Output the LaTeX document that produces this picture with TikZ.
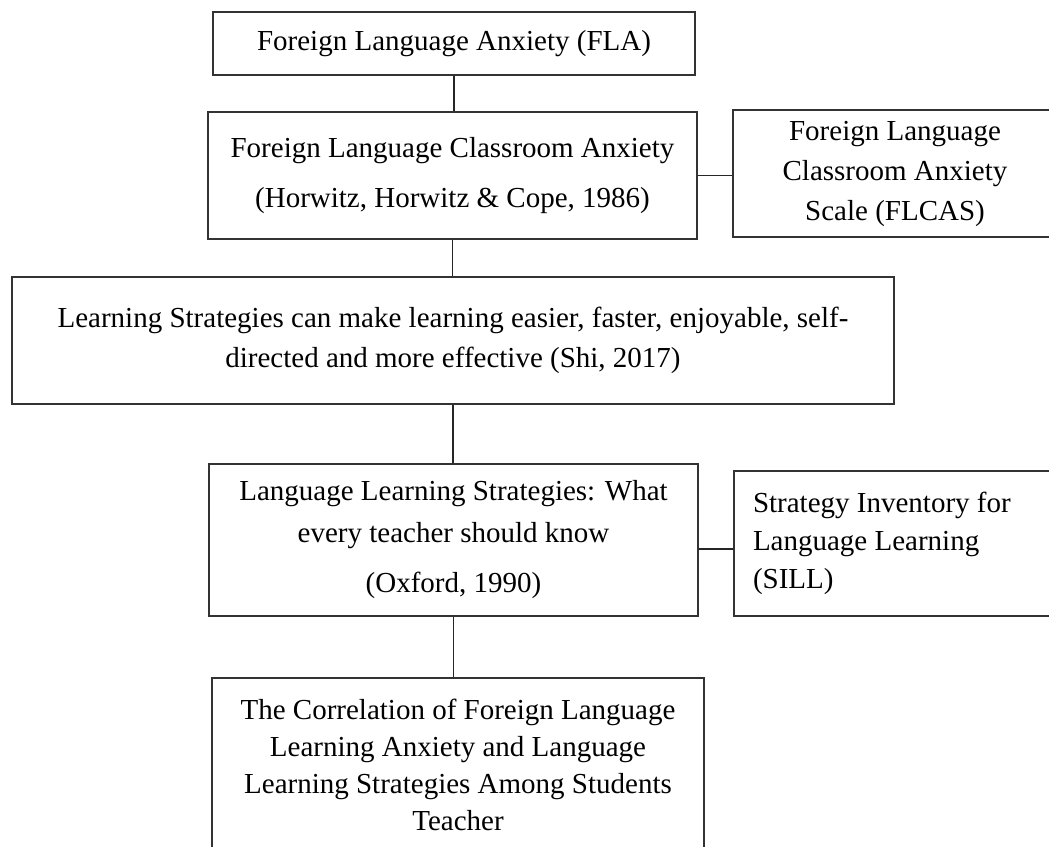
\documentclass[tikz,border=0pt]{standalone}
\usepackage{fontspec}
\setmainfont{Liberation Serif}
\begin{document}
\begin{tikzpicture}[x=0.5pt, y=-0.5pt,
		boxnode/.style={draw=black!80, line width=0.75pt, inner sep=0pt, align=center, font=\fontsize{14.5}{18.5}\selectfont},
		link/.style={draw=black!85, line width=0.6pt}]
		\useasboundingbox (0,0) rectangle (1049,846);
		\clip (0,0) rectangle (1049,846);
		\node (fla) at (454,43.5)[boxnode, minimum width=241pt, minimum height=31.5pt]{Foreign Language Anxiety (FLA)};
		\node (flca) at (452.5,175.5)[boxnode, minimum width=244.5pt, minimum height=63.5pt]{Foreign Language Classroom Anxiety\\[6.5pt](Horwitz, Horwitz \& Cope, 1986)};
		\node (flcas) at (895,173.5)[boxnode, minimum width=162pt, minimum height=63.5pt]{Foreign Language\\[1.5pt]Classroom Anxiety\\[1.5pt]Scale (FLCAS)};
		\node (shi) at (453,340.5)[boxnode, minimum width=441pt, minimum height=63.5pt]{Learning Strategies can make learning easier, faster, enjoyable, self-\\[1.5pt]directed and more effective (Shi, 2017)};
		\node (oxford) at (453.5,540)[boxnode, minimum width=244.5pt, minimum height=76pt]{Language Learning Strategies: What\\[2.5pt]every teacher should know\\[6.5pt](Oxford, 1990)};
		\node (sill) at (897,543.5)[boxnode, minimum width=163pt, minimum height=72.5pt, text width=144pt, align=flush left]{Strategy Inventory for\\[0.5pt]Language Learning\\[0.5pt](SILL)};
		\node (corr) at (458,765)[boxnode, minimum width=246pt, minimum height=87pt]{The Correlation of Foreign Language\\Learning Anxiety and Language\\Learning Strategies Among Students\\Teacher};
		% connectors
		\draw [link](fla.south) -- (fla.south |- flca.north);
		\draw [link](flca.east) -- (flca.east -| flcas.west);
		\draw [link](flca.south) -- (flca.south |- shi.north);
		\draw [link](shi.south) -- (shi.south |- oxford.north);
		\draw [link]([yshift=-4.5pt]oxford.east) -- ([yshift=-4.5pt]oxford.east -| sill.west);
		\draw [link](oxford.south) -- (oxford.south |- corr.north);
	\end{tikzpicture}
\end{document}
